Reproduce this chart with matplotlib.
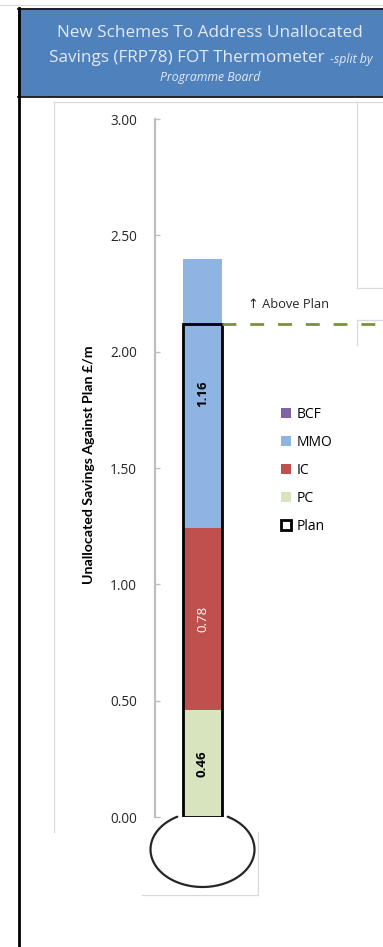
import numpy as np
import matplotlib
matplotlib.use('Agg')
import matplotlib.pyplot as plt
from matplotlib.patches import Patch, Rectangle
from matplotlib.ticker import FormatStrFormatter

# ---------------- data ----------------
categories = ['PC', 'IC', 'MMO', 'BCF']
values = [0.46, 0.78, 1.16, 0.00]
colors = ['#D7E4BD', '#C0504D', '#8DB4E2', '#8064A2']
label_colors = ['#000000', '#FFFFFF', '#000000', '#000000']
label_weights = ['bold', 'normal', 'bold', 'bold']
plan_value = 2.12
yticks = [0.0, 0.5, 1.0, 1.5, 2.0, 2.5, 3.0]
legend_order = ['BCF', 'MMO', 'IC', 'PC']
plan_label = 'Plan'
title_line1 = 'New Schemes To Address Unallocated'
title_line2 = 'Savings (FRP78) FOT Thermometer'
title_line2_suffix = ' -split by'
title_line3 = 'Programme Board'
y_label = 'Unallocated Savings Against Plan £/m'
above_plan_text = '↑ Above Plan'

# ---------------- figure ----------------
plt.rcParams['font.family'] = ['Open Sans', 'DejaVu Sans']
W, H = 383, 947
fig = plt.figure(figsize=(W / 100, H / 100), dpi=100)
fig.patch.set_facecolor('white')

# background / decoration axes in pixel coordinates
bg = fig.add_axes([0, 0, 1, 1], zorder=0)
bg.set_xlim(0, W)
bg.set_ylim(H, 0)
bg.axis('off')

# faint top line
bg.plot([0, W], [5, 5], color='#D9D9D9', lw=0.8)
# title box
bg.add_patch(Rectangle((18, 8), W - 18 + 5, 97 - 8, facecolor='#4F81BD', edgecolor='none'))
bg.plot([18, W], [8.5, 8.5], color='#1A1A1A', lw=1.3)
bg.plot([18, W], [97, 97], color='#1A1A1A', lw=1.3)
bg.plot([18.5, 18.5], [8, H], color='#000000', lw=2)
# light gray chart frames
fr = '#D9D9D9'
bg.plot([54, 54], [102, 832], color=fr, lw=0.9)
bg.plot([54, W], [102, 102], color=fr, lw=0.9)
bg.plot([142, 258], [895, 895], color=fr, lw=0.9)
bg.plot([258, 258], [832, 895], color=fr, lw=0.9)
bg.plot([357, 357], [102, 288], color=fr, lw=0.9)
bg.plot([357, W], [288, 288], color=fr, lw=0.9)
bg.plot([357, 357], [320, 345], color=fr, lw=0.9)
bg.plot([357, W], [320, 320], color=fr, lw=0.9)

# title texts
tcol = '#E3EAF3'
bg.text(210, 33, title_line1, ha='center', va='center', fontsize=12.3, color=tcol)
fig.canvas.draw()
r = fig.canvas.get_renderer()
ta = bg.text(0, 58, title_line2, ha='left', va='center', fontsize=12.3, color=tcol)
tb = bg.text(0, 58, title_line2_suffix, ha='left', va='center', fontsize=8.8,
             color=tcol, style='italic')
wa = ta.get_window_extent(r).width
wb = tb.get_window_extent(r).width
x0 = 210 - (wa + wb) / 2
ta.set_x(x0)
tb.set_x(x0 + wa + 2)
tb.set_y(59.5)
bg.text(210, 77, title_line3, ha='center', va='center', fontsize=8.8, color=tcol,
        style='italic')

# thermometer bulb
cx, cy, a, b = 202.5, 849.5, 52, 37.5
t = np.radians(np.linspace(119, 421, 400))
bg.plot(cx + a * np.cos(t), cy - b * np.sin(t), color='#262626', lw=1.6,
        solid_capstyle='round')

# ---------------- main chart axes ----------------
ax = fig.add_axes([155 / W, (H - 817) / H, (W - 155) / W, (817 - 119) / H], zorder=2)
ax.patch.set_visible(False)
ax.set_ylim(0, 3)
px_per_unit = 39.0
ax.set_xlim(-(202.5 - 155) / px_per_unit, (W - 202.5) / px_per_unit)

bottom = 0.0
bars = {}
for cat, v, c, lc, lw_ in zip(categories, values, colors, label_colors, label_weights):
    bars[cat] = ax.bar(0, v, bottom=bottom, width=1, color=c, edgecolor='none', zorder=2)
    if v > 0:
        ax.text(0, bottom + v / 2, f'{v:.2f}', rotation=90, ha='center', va='center',
                fontsize=9.5, color=lc, fontweight=lw_, zorder=4)
    bottom += v

# plan outline
ax.bar(0, plan_value, width=1, fill=False, edgecolor='black', linewidth=2, zorder=3)
# plan dashed line
ax.hlines(plan_value, 0.5, ax.get_xlim()[1], colors='#77933C', linewidth=2,
          linestyles=(0, (5, 5)), zorder=3)
ax.annotate(above_plan_text, xy=(0.5, plan_value), xytext=(18.5, 13.5),
            textcoords='offset points', ha='left', va='center', fontsize=9.3,
            color='#262626', family=['Open Sans', 'DejaVu Sans'])

# axes styling
for s in ['top', 'right', 'bottom']:
    ax.spines[s].set_visible(False)
ax.spines['left'].set_color('#BFBFBF')
ax.spines['left'].set_linewidth(1.6)
ax.set_xticks([])
ax.set_yticks(yticks)
ax.yaxis.set_major_formatter(FormatStrFormatter('%.2f'))
ax.tick_params(axis='y', direction='in', length=3.5, width=1, color='#BFBFBF',
               pad=13, labelsize=9.8, labelcolor='#262626')

ax.text((89 - 155) / (W - 155), 0.505, y_label, transform=ax.transAxes, rotation=90,
        ha='center', va='center', fontsize=10.2, fontweight='bold', color='#000000',
        family=['Lato', 'DejaVu Sans'])

# legend
cmap = dict(zip(categories, colors))
handles = [Patch(facecolor=cmap[c], edgecolor='none') for c in legend_order]
handles.append(Patch(facecolor='white', edgecolor='black', linewidth=2))
labels = legend_order + [plan_label]
ax.legend(handles, labels, loc='upper left', bbox_to_anchor=(281 / W, 1 - 407 / H),
          bbox_transform=fig.transFigure, frameon=False, fontsize=10,
          handlelength=0.7, handleheight=0.7, handletextpad=0.45,
          labelspacing=0.93, borderpad=0, borderaxespad=0)

fig.savefig('out.png', dpi=100)
